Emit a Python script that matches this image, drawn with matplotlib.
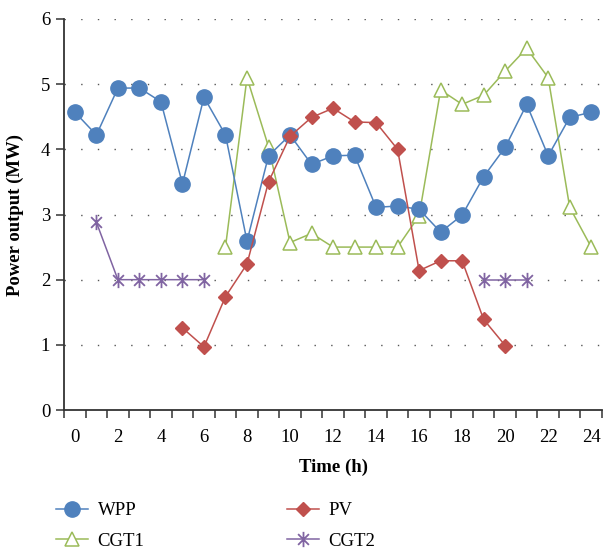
import matplotlib
matplotlib.use("Agg")
import matplotlib.pyplot as plt
from matplotlib.path import Path
import numpy as np

hours = list(range(25))
wpp = [4.57, 4.22, 4.94, 4.94, 4.73, 3.47, 4.80, 4.22, 2.59, 3.90, 4.22, 3.77, 3.90,
       3.91, 3.11, 3.13, 3.08, 2.73, 2.99, 3.58, 4.03, 4.69, 3.90, 4.49, 4.57]
pv_hours = list(range(5, 21))
pv = [1.26, 0.97, 1.74, 2.24, 3.50, 4.20, 4.49, 4.63, 4.42, 4.41, 4.00, 2.14, 2.29, 2.29, 1.39, 0.99]
cgt1_hours = list(range(7, 25))
cgt1 = [2.50, 5.10, 4.04, 2.57, 2.71, 2.50, 2.50, 2.50, 2.50, 2.98, 4.91, 4.69, 4.83, 5.20, 5.55, 5.10, 3.11, 2.50]
cgt2_hours_a = list(range(1, 7))
cgt2_a = [2.88, 2.00, 2.00, 2.00, 2.00, 2.00]
cgt2_hours_b = [19, 20, 21]
cgt2_b = [2.00, 2.00, 2.00]
xtick_labels = [str(v) for v in range(0, 25, 2)]

plt.rcParams['font.family'] = ['Liberation Serif', 'DejaVu Serif']
FS = 13.5

blue = '#4F81BD'
red = '#C0504D'
green = '#9BBB59'
purple = '#8064A2'

# asterisk marker: vertical bar + X
d = 0.707
star = Path([(0, -1), (0, 1), (-d, -d), (d, d), (-d, d), (d, -d)],
            [Path.MOVETO, Path.LINETO, Path.MOVETO, Path.LINETO, Path.MOVETO, Path.LINETO])

fig = plt.figure(figsize=(6.05, 5.5), dpi=100)
ax = fig.add_axes([0.106, 0.2545, 0.889, 0.711])

l1, = ax.plot(hours, wpp, color=blue, lw=1.1, marker='o', ms=11, mfc=blue, mec=blue, label='WPP', zorder=3)
l3, = ax.plot(pv_hours, pv, color=red, lw=1.1, marker='D', ms=7, mfc=red, mec=red, label='PV', zorder=4)
l2, = ax.plot(cgt1_hours, cgt1, color=green, lw=1.1, marker='^', ms=10, mfc='white', mec=green, mew=1.1, label='CGT1', zorder=2)
l4, = ax.plot(cgt2_hours_a, cgt2_a, color=purple, lw=1.1, marker=star, ms=11, mec=purple, mew=1.3, label='CGT2', zorder=3)
ax.plot(cgt2_hours_b, cgt2_b, color=purple, lw=1.1, marker=star, ms=11, mec=purple, mew=1.3, zorder=3)

ax.set_xlim(-0.5, 24.5)
ax.set_ylim(0, 6)
ax.set_xticks(range(0, 25, 2))
ax.set_xticklabels(xtick_labels)
ax.set_xticks(np.arange(-0.5, 25, 1), minor=True)
ax.tick_params(axis='x', which='major', length=0, labelsize=FS, pad=14)
ax.tick_params(axis='x', which='minor', length=6, width=1.1, direction='out', color='#333333')
ax.set_yticks(range(0, 7))
ax.tick_params(axis='y', which='major', length=6, width=1.1, direction='out', labelsize=FS, color='#333333', pad=4)

for yv in range(1, 7):
    ax.axhline(yv, color='#555555', lw=1.0, ls=(0, (1, 11)), zorder=0)

for s in ['top', 'right']:
    ax.spines[s].set_visible(False)
for s in ['left', 'bottom']:
    ax.spines[s].set_linewidth(1.3)
    ax.spines[s].set_color('#333333')

ax.set_xlabel('Time (h)', fontsize=FS, fontweight='bold', labelpad=9)
ax.set_ylabel('Power output (MW)', fontsize=FS, fontweight='bold', labelpad=12)

fig.legend(handles=[l1, l2, l3, l4], loc='upper left', bbox_to_anchor=(0.093, 0.087),
           ncol=2, frameon=False, fontsize=FS, handlelength=1.7, handletextpad=0.5,
           columnspacing=7.6, labelspacing=0.72, borderaxespad=0, borderpad=0)

fig.savefig('out.png', dpi=100)
